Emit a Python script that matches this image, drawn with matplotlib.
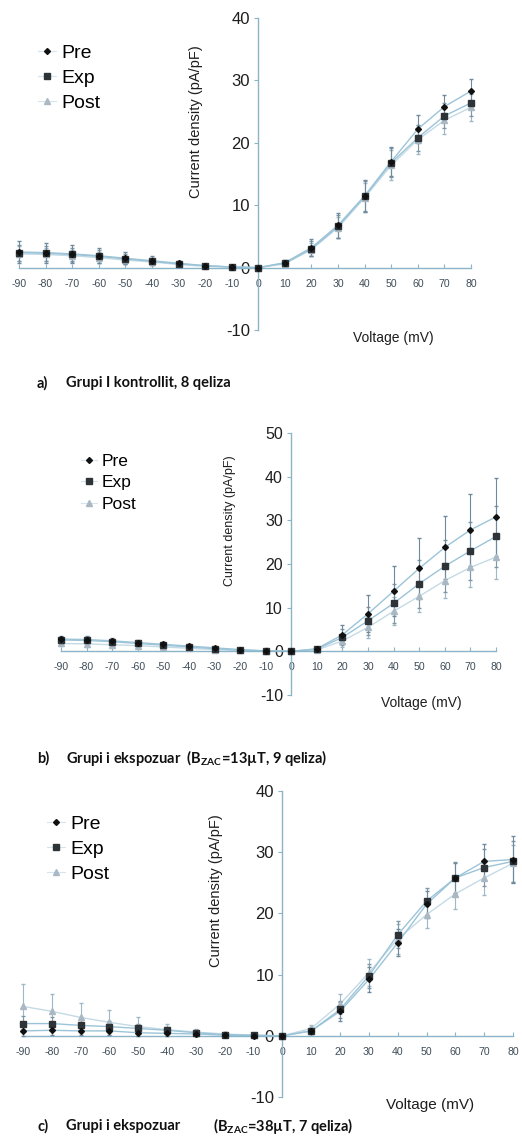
import matplotlib.pyplot as plt
from matplotlib.lines import Line2D

plt.rcParams['font.family'] = ['Liberation Sans', 'DejaVu Sans']
plt.rcParams['axes.unicode_minus'] = False

W, H = 522, 1138

volt = [-90, -80, -70, -60, -50, -40, -30, -20, -10, 0, 10, 20, 30, 40, 50, 60, 70, 80]

# panel a - kontrollit
a_pre = [2.5, 2.4, 2.2, 1.9, 1.5, 1.1, 0.7, 0.3, 0.1, 0, 0.8, 3.2, 6.8, 11.5, 17.0, 22.2, 25.8, 28.3]
a_exp = [2.4, 2.3, 2.1, 1.8, 1.4, 1.0, 0.6, 0.3, 0.1, 0, 0.7, 3.0, 6.6, 11.4, 16.8, 20.8, 24.3, 26.4]
a_post = [2.2, 2.1, 1.9, 1.6, 1.2, 0.9, 0.5, 0.2, 0.1, 0, 0.6, 2.9, 6.4, 11.2, 16.4, 20.5, 23.6, 25.7]
a_pre_err = [1.7, 1.6, 1.4, 1.2, 1.0, 0.7, 0.4, 0.2, 0.1, 0, 0.4, 1.4, 2.0, 2.6, 2.4, 2.2, 1.9, 2.0]
a_exp_err = [1.3, 1.2, 1.1, 1.0, 0.8, 0.6, 0.4, 0.2, 0.1, 0, 0.4, 1.2, 1.8, 2.4, 2.3, 2.1, 2.0, 2.1]
a_post_err = [1.2, 1.1, 1.0, 0.9, 0.7, 0.5, 0.3, 0.2, 0.1, 0, 0.3, 1.1, 1.7, 2.3, 2.4, 2.3, 2.2, 2.2]

# panel b - 13 uT
b_pre = [2.8, 2.7, 2.4, 2.0, 1.6, 1.2, 0.8, 0.4, 0.1, 0, 0.6, 3.8, 8.6, 13.8, 19.0, 23.8, 27.8, 30.8]
b_exp = [2.6, 2.5, 2.2, 1.8, 1.4, 1.0, 0.6, 0.3, 0.1, 0, 0.5, 3.2, 7.0, 11.0, 15.5, 19.5, 23.0, 26.3]
b_post = [1.8, 1.7, 1.5, 1.3, 1.0, 0.7, 0.4, 0.2, 0.1, 0, 0.3, 2.4, 5.5, 9.2, 12.6, 16.2, 19.2, 21.6]
b_pre_err = [0.8, 0.8, 0.7, 0.6, 0.5, 0.4, 0.3, 0.2, 0.1, 0, 0.3, 2.2, 4.2, 5.7, 7.0, 7.3, 8.2, 9.0]
b_exp_err = [0.7, 0.7, 0.6, 0.5, 0.4, 0.3, 0.2, 0.1, 0.1, 0, 0.3, 1.8, 3.2, 4.4, 5.5, 6.0, 6.6, 7.0]
b_post_err = [0.6, 0.6, 0.5, 0.4, 0.3, 0.3, 0.2, 0.1, 0.1, 0, 0.2, 1.4, 2.4, 3.2, 3.6, 4.0, 4.5, 5.0]

# panel c - 38 uT
c_pre = [0.8, 0.9, 0.8, 0.8, 0.5, 0.4, 0.3, 0.1, 0.0, 0, 0.8, 4.0, 9.2, 15.2, 21.5, 25.8, 28.5, 28.8]
c_exp = [2.0, 2.0, 1.7, 1.5, 1.2, 0.9, 0.5, 0.2, 0.1, 0, 0.8, 4.3, 9.8, 16.5, 22.0, 25.8, 27.5, 28.5]
c_post = [4.8, 4.0, 3.0, 2.2, 1.5, 1.0, 0.6, 0.3, 0.1, 0, 1.2, 5.2, 10.3, 15.8, 19.8, 23.2, 25.8, 28.2]
c_pre_err = [0.8, 0.8, 0.7, 0.6, 0.5, 0.4, 0.3, 0.2, 0.1, 0, 0.5, 1.5, 2.0, 2.2, 2.2, 2.4, 2.8, 3.9]
c_exp_err = [1.2, 1.1, 1.0, 0.9, 0.8, 0.6, 0.4, 0.2, 0.1, 0, 0.5, 1.4, 2.0, 2.2, 2.2, 2.6, 3.0, 3.4]
c_post_err = [3.7, 2.8, 2.3, 2.0, 1.5, 1.0, 0.5, 0.3, 0.1, 0, 0.6, 1.6, 2.2, 2.4, 2.2, 2.4, 2.8, 3.0]

series = ['Pre', 'Exp', 'Post']

LINE = '#9cc4d8'
SPINE = '#8ab4c8'
TXT = '#1e1e1e'
TICK = '#3e4c58'
XL = (-93, 83)
MK = {'Pre': ('D', 3, '#111111', '#6f8a9c'),
      'Exp': ('s', 4.8, '#2e3338', '#7f98a8'),
      'Post': ('^', 4.8, '#a9b8c2', '#9fb8c6')}

fig = plt.figure(figsize=(W / 100, H / 100), dpi=100)


def px(x, y):
    return x / W, 1 - y / H


def panel(x90, x80, ytop_px, ybot_px, ylim, yticks, data, errs, fs):
    unit = (x80 - x90) / 170.0
    left = x90 + (XL[0] + 90) * unit
    right = x80 + (XL[1] - 80) * unit
    ax = fig.add_axes([left / W, 1 - ybot_px / H, (right - left) / W, (ybot_px - ytop_px) / H])
    ax.set_xlim(*XL)
    ax.set_ylim(*ylim)
    for s in ['top', 'right']:
        ax.spines[s].set_visible(False)
    ax.spines['left'].set_position(('data', 0))
    ax.spines['bottom'].set_position(('data', 0))
    ax.spines['left'].set_bounds(ylim[0], ylim[1])
    ax.spines['bottom'].set_bounds(-90, 80)
    for s in ['left', 'bottom']:
        ax.spines[s].set_color(SPINE)
        ax.spines[s].set_linewidth(1.0)
    ax.set_xticks(volt)
    ax.set_yticks(yticks)
    ax.tick_params(axis='x', direction='in', length=3, pad=8, labelsize=7.6, colors=SPINE, labelcolor=TICK)
    ax.tick_params(axis='y', direction='out', length=3, pad=3, labelsize=fs, colors=SPINE, labelcolor=TXT)
    ax.patch.set_alpha(0)

    for name, ys, es, lc in [('Post', data[2], errs[2], '#c4dbe6'),
                             ('Exp', data[1], errs[1], LINE),
                             ('Pre', data[0], errs[0], LINE)]:
        m, ms, c, ec = MK[name]
        ax.plot(volt, ys, color=lc, lw=1.0, zorder=2)
        ax.errorbar(volt, ys, yerr=es, fmt=m, ms=ms, color=c, ecolor=ec,
                    elinewidth=0.8, capsize=1.5, zorder=3, clip_on=False)
    return ax


def legend(ax, x, y, fs, sp):
    hs = []
    for name in series:
        m, ms, c, ec = MK[name]
        hs.append(Line2D([], [], color='#d5e5ee', lw=0.8, marker=m, ms=ms,
                         markerfacecolor=c, markeredgecolor=c))
    ax.legend(hs, series, loc='upper left',
              bbox_to_anchor=px(x, y), bbox_transform=fig.transFigure, frameon=False,
              fontsize=fs, handlelength=0.9, handletextpad=0.3, labelspacing=sp,
              borderpad=0, borderaxespad=0)


axa = panel(19, 471, 18, 330, (-10, 40), [-10, 0, 10, 20, 30, 40],
            (a_pre, a_exp, a_post), (a_pre_err, a_exp_err, a_post_err), 12)
legend(axa, 38, 44, 14, 0.38)
fig.text(*px(196, 122), 'Current density (pA/pF)', rotation=90, ha='center', va='center',
         fontsize=10.5, color=TXT)
fig.text(*px(393, 338), 'Voltage (mV)', ha='center', va='center', fontsize=10, color=TXT)

axb = panel(61, 496, 433, 695, (-10, 50), [-10, 0, 10, 20, 30, 40, 50],
            (b_pre, b_exp, b_post), (b_pre_err, b_exp_err, b_post_err), 11.5)
legend(axb, 81, 454, 12.5, 0.35)
fig.text(*px(230, 521), 'Current density (pA/pF)', rotation=90, ha='center', va='center',
         fontsize=9, color=TXT)
fig.text(*px(421, 703), 'Voltage (mV)', ha='center', va='center', fontsize=10, color=TXT)

axc = panel(23, 513, 791, 1097, (-10, 40), [-10, 0, 10, 20, 30, 40],
            (c_pre, c_exp, c_post), (c_pre_err, c_exp_err, c_post_err), 12)
legend(axc, 47, 815, 14, 0.38)
fig.text(*px(216, 891), 'Current density (pA/pF)', rotation=90, ha='center', va='center',
         fontsize=10.5, color=TXT)
fig.text(*px(430, 1105), 'Voltage (mV)', ha='center', va='center', fontsize=11, color=TXT)

cap = dict(fontsize=10.5, fontweight='bold', family='Lato', color='#111111', va='center')
fig.text(*px(37, 383), 'a)', **cap)
fig.text(*px(66, 383), 'Grupi I kontrollit, 8 qeliza', **cap)
fig.text(*px(37, 758), 'b)', **cap)
fig.text(*px(66, 758), r'Grupi i ekspozuar  (B$_{\mathregular{ZAC}}$=13µT, 9 qeliza)', **cap)
fig.text(*px(37, 1126), 'c)', **cap)
fig.text(*px(66, 1126), 'Grupi i ekspozuar', **cap)
fig.text(*px(213, 1126), r'(B$_{\mathregular{ZAC}}$=38µT, 7 qeliza)', **cap)

fig.savefig('out.png', dpi=100)
